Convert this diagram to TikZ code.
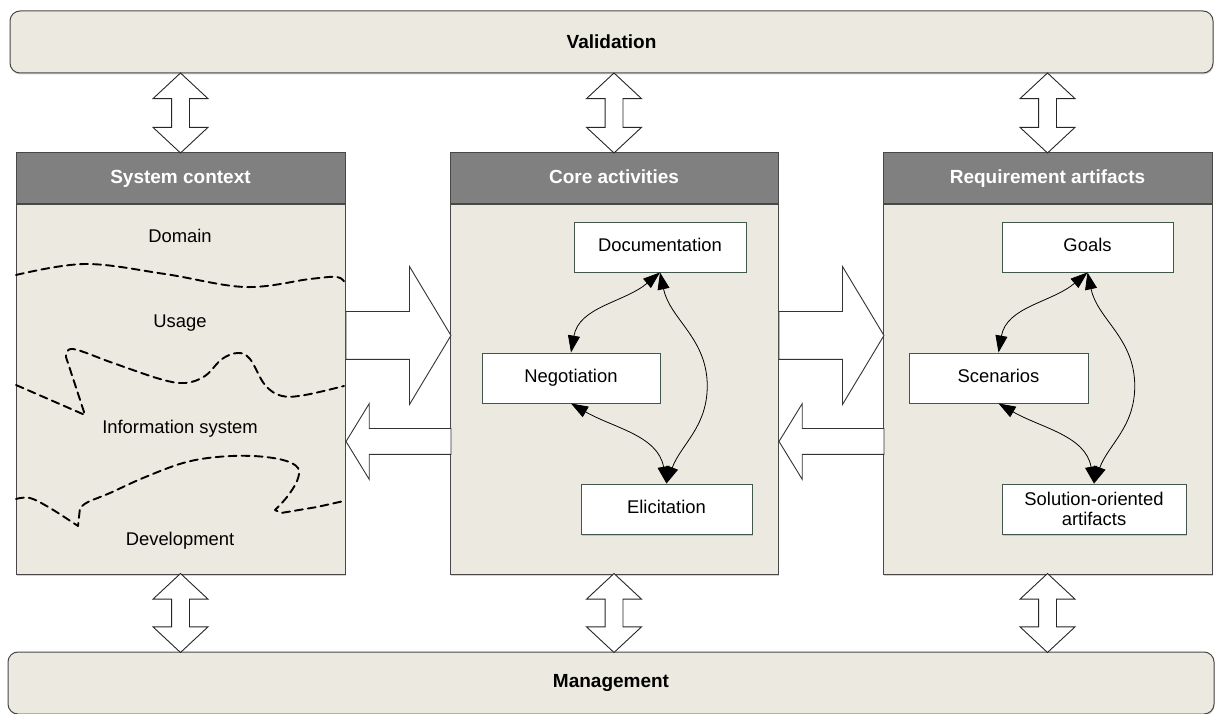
\documentclass[tikz,border=0pt]{standalone}
\usepackage{fontspec}
\setmainfont{Liberation Sans}
\usepackage{xcolor}
\definecolor{panelfill}{RGB}{236,234,224}
\definecolor{headfill}{RGB}{128,128,128}
\definecolor{boxline}{RGB}{66,86,76}
\definecolor{edge}{RGB}{72,72,72}
\usetikzlibrary{shapes.arrows,arrows.meta,positioning,calc,shadows}

\begin{document}
\begin{tikzpicture}[x=1pt,y=1pt,
  every node/.style={font=\fontsize{18.4}{21}\selectfont},
  shade/.style={drop shadow={shadow xshift=0.5pt, shadow yshift=-1.5pt, opacity=0.35}},
  bar/.style={draw=edge, fill=panelfill, rounded corners=10pt, line width=1pt, minimum height=62pt, shade, font=\fontsize{19}{22}\selectfont\bfseries},
  panelhead/.style={draw=edge, fill=headfill, line width=1pt, minimum height=51pt, text=white, text height=14pt, text depth=4pt, font=\fontsize{19}{22}\selectfont\bfseries},
  panelbody/.style={draw=edge, fill=panelfill, line width=1pt, minimum height=369pt, shade},
  actbox/.style={draw=boxline, fill=white, line width=0.9pt, minimum height=50pt, align=center, inner sep=2pt, shade},
  oneline/.style={text height=13.5pt, text depth=4pt},
  vflow/.style={double arrow, shape border rotate=90, draw=black!85, fill=white, line width=0.9pt, inner sep=8.5pt, minimum width=54pt, double arrow head extend=18.5pt, double arrow tip angle=94},
  fwd/.style={single arrow, draw=black!80, fill=white, line width=0.9pt, inner sep=23.5pt, minimum width=137pt, minimum height=105pt, single arrow head extend=45pt, single arrow tip angle=118},
  bwd/.style={single arrow, shape border rotate=180, draw=black!80, fill=white, line width=0.9pt, inner sep=12.5pt, minimum width=75pt, minimum height=105pt, single arrow head extend=25pt, single arrow tip angle=117},
  link/.style={{Triangle[length=17pt,width=12pt]}-{Triangle[length=17pt,width=12pt]}, line width=0.8pt},
  zone/.style={line width=1.9pt, dash pattern=on 8pt off 5pt, line join=round, line cap=round}
]
\useasboundingbox (0,0) rectangle (1216,713);

\node[bar, minimum width=1203pt] (val) at (611.5,671) {Validation};
\node[bar, minimum width=1206pt] (mgmt) at (611,30) {Management};

\node[panelhead, minimum width=329pt] (sysh) at (180.5,534.5) {System context};
\node[panelbody, minimum width=329pt, below=0pt of sysh] (sys) {};
\node[panelhead, minimum width=328pt] (coreh) at (614,534.5) {Core activities};
\node[panelbody, minimum width=328pt, below=0pt of coreh] (core) {};
\node[panelhead, minimum width=329pt] (arth) at (1047.5,534.5) {Requirement artifacts};
\node[panelbody, minimum width=329pt, below=0pt of arth] (art) {};

\node[vflow, minimum height=80pt] (v1) at ($(val.south -| sysh.north)!0.5!(sysh.north)$) {};
\node[vflow, minimum height=80pt] (v2) at ($(val.south -| coreh.north)!0.5!(coreh.north)$) {};
\node[vflow, minimum height=80pt] (v3) at ($(val.south -| arth.north)!0.5!(arth.north)$) {};
\node[vflow, minimum height=79pt] (m1) at ($(mgmt.north -| sys.south)!0.5!(sys.south)$) {};
\node[vflow, minimum height=79pt] (m2) at ($(mgmt.north -| core.south)!0.5!(core.south)$) {};
\node[vflow, minimum height=79pt] (m3) at ($(mgmt.north -| art.south)!0.5!(art.south)$) {};

\node[fwd, anchor=tail] (sys2core) at ($(sys.east)+(0,54)$) {};
\node[bwd, anchor=tip] (core2sys) at ($(sys.east)+(0,-52)$) {};
\node[fwd, anchor=tail] (core2art) at ($(core.east)+(0,54)$) {};
\node[bwd, anchor=tip] (art2core) at ($(core.east)+(0,-52)$) {};

\node (domain) at (180,477) {Domain};
\node (usage) at (180,390) {Usage};
\node (infosys) at (180,284) {Information system};
\node (devel) at (180,172) {Development};

\draw[zone] plot[smooth, tension=0.6] coordinates {(16,438) (85,449) (165,439) (245,426) (310,434) (337,436) (345,430)};
\draw[zone] (16,328) -- (85,298) -- (66,356) -- plot[smooth, tension=0.6] coordinates {(66,356) (73,364) (113,350) (160,334) (185,330) (205,337) (222,354) (238,360) (250,354) (265,328) (282,317) (305,318) (344,327)};
\draw[zone] plot[smooth, tension=0.6] coordinates {(16,214) (30,215) (50,205) (78,187)} -- (80,205) -- plot[smooth, tension=0.6] coordinates {(80,205) (88,211) (110,220) (143,235) (183,250) (217,256) (253,257) (283,253) (298,245) (297,232) (287,216) (275,203)} -- (281,200) -- (317,206) -- (344,212);

\node[actbox, oneline, minimum width=172pt] (doc) at (660,466) {Documentation};
\node[actbox, oneline, minimum width=178pt] (neg) at (571,335) {Negotiation};
\node[actbox, oneline, minimum width=171pt] (eli) at (666.5,204) {Elicitation};

\draw[link] (neg.north) to[out=80, in=-140] (doc.south);
\draw[link] (neg.south) to[out=-30, in=100] (eli.north);
\draw[link] (doc.south) to[out=-78, in=90] ($(doc.south)!0.5!(eli.north)+(44,-8)$) to[out=-90, in=70] (eli.north);

\node[actbox, oneline, minimum width=171pt] (goals) at (1087.5,466) {Goals};
\node[actbox, oneline, minimum width=179pt] (scen) at (998.5,335) {Scenarios};
\node[actbox, minimum width=184pt, font=\fontsize{18.4}{20}\selectfont] (sol) at (1094,204) {Solution-oriented\\artifacts};

\draw[link] (scen.north) to[out=80, in=-140] (goals.south);
\draw[link] (scen.south) to[out=-30, in=100] (sol.north);
\draw[link] (goals.south) to[out=-78, in=90] ($(goals.south)!0.5!(sol.north)+(44,-8)$) to[out=-90, in=70] (sol.north);
\end{tikzpicture}
\end{document}
